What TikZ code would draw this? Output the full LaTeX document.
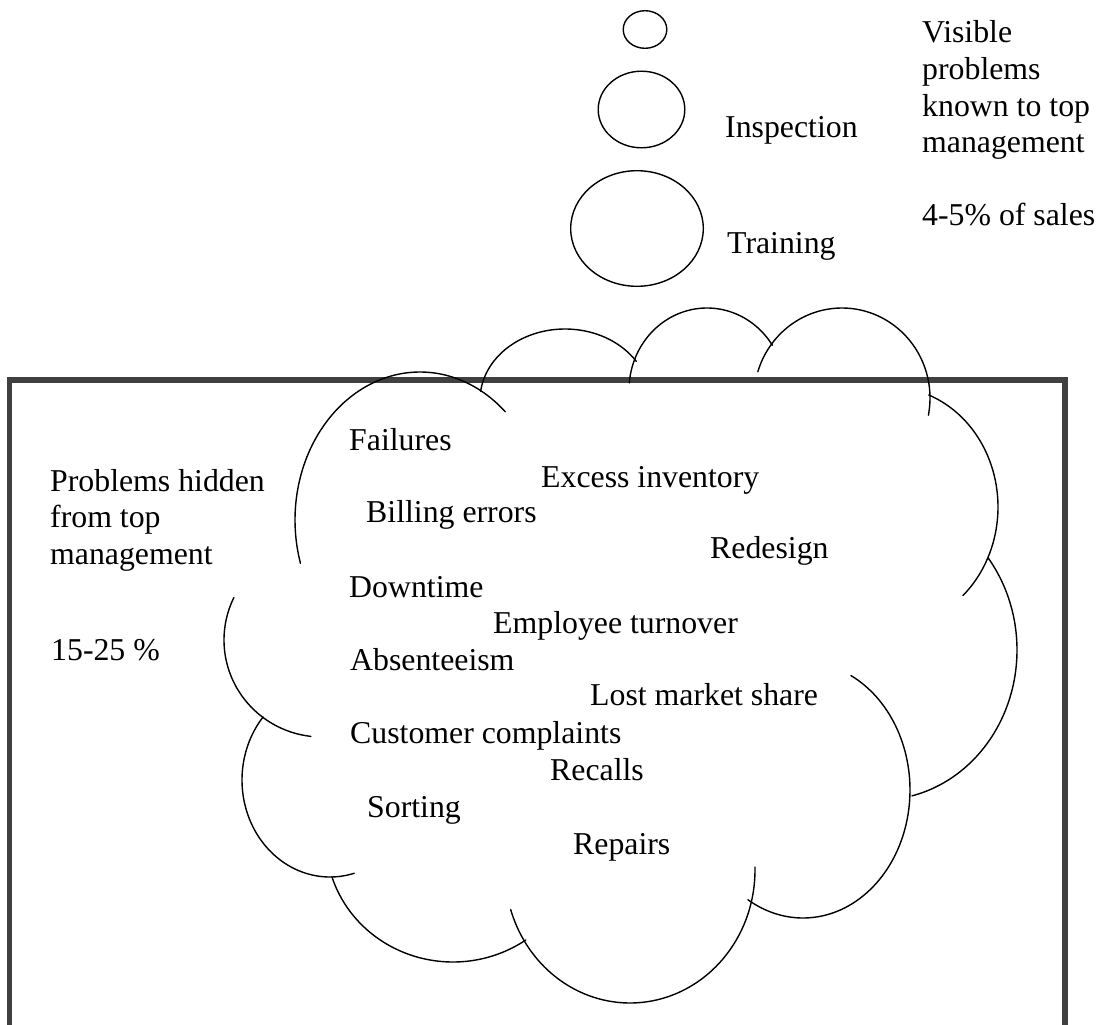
\documentclass[tikz,border=0pt]{standalone}
\usepackage{fontspec}
\setmainfont{Liberation Serif}
\definecolor{framegray}{HTML}{404040}
\newcommand{\fsz}{\fontsize{31.8}{36.6}\selectfont}
\begin{document}
\begin{tikzpicture}[x=1pt,y=-1pt,
  lobe/.style={line width=1.4pt, line join=round, line cap=round},
  bubble/.style={line width=1.4pt},
  lbl/.style={anchor=base west, inner sep=0pt, font=\fsz},
  frame/.style={line width=5.5pt, draw=framegray}]
\useasboundingbox (0,0) rectangle (1100,1025);
% open frame
\draw[frame] (9.5,1030) -- (9.5,380) -- (1065,380) -- (1065,1030);
% thought bubbles
\draw[bubble] (645,29.5) ellipse [x radius=21.8, y radius=18.8];
\draw[bubble] (641.5,109.5) ellipse [x radius=43.3, y radius=38.3];
\draw[bubble] (637,228.5) ellipse [x radius=66.3, y radius=57.8];
% cloud lobes: cx/cy/rx/ry/start/end
\foreach \cx/\cy/\rx/\ry/\ta/\tb in {
  420/520/125/148/163/313,
  565/400/85/71/187/327,
  707/390/78/82/185/327,
  842/398/88/90/197/371,
  890/507/108/120/-69/47.5,
  880/650/137/150/-38/76.5,
  803/790/107/128/-63.4/121,
  630/870/125/133/-1.3/162.7,
  453/840/127/122/55/162.5,
  330/780/88/97/74/220.5,
  322/640/98/97/96.5/206}
  \draw[lobe] plot[domain=\ta:\tb, samples=90] ({\cx+\rx*cos(\x)},{\cy+\ry*sin(\x)});
% labels
\node[lbl] (visible) at (922,43) {\begin{tabular}[t]{@{}l@{}}Visible\\problems\\known to top\\management\\ \\4-5\% of sales\end{tabular}};
\node[lbl] (inspection) at (725,137) {Inspection};
\node[lbl] (training) at (727,253) {Training};
\node[lbl] (hidden) at (50,491) {\begin{tabular}[t]{@{}l@{}}Problems hidden\\from top\\management\end{tabular}};
\node[lbl] (pct) at (51,660) {15-25 \%};
\node[lbl] (failures) at (349,450) {Failures};
\node[lbl] (excess) at (541,487) {Excess inventory};
\node[lbl] (billing) at (366,522) {Billing errors};
\node[lbl] (redesign) at (710,558) {Redesign};
\node[lbl] (downtime) at (349,597) {Downtime};
\node[lbl] (turnover) at (493,633) {Employee turnover};
\node[lbl] (absent) at (350,670) {Absenteeism};
\node[lbl] (lost) at (590,705) {Lost market share};
\node[lbl] (complaints) at (350,743) {Customer complaints};
\node[lbl] (recalls) at (550,780) {Recalls};
\node[lbl] (sorting) at (367,817) {Sorting};
\node[lbl] (repairs) at (573,854) {Repairs};
\end{tikzpicture}
\end{document}
